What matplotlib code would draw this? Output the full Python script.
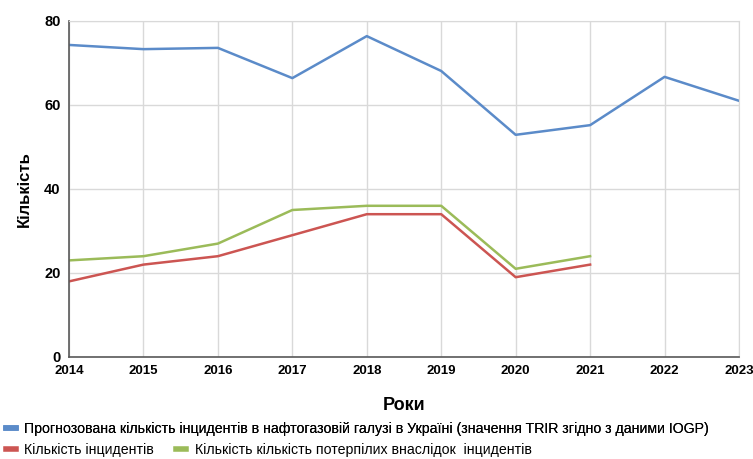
import matplotlib
matplotlib.use("Agg")
from matplotlib import pyplot as plt
from matplotlib.lines import Line2D

years = [2014, 2015, 2016, 2017, 2018, 2019, 2020, 2021, 2022, 2023]
forecast = [74.3, 73.3, 73.6, 66.4, 76.4, 68.1, 52.9, 55.2, 66.7, 61.0]
incident_years = [2014, 2015, 2016, 2017, 2018, 2019, 2020, 2021]
incidents = [18, 22, 24, 29, 34, 34, 19, 22]
victims = [23, 24, 27, 35, 36, 36, 21, 24]

labels = [
    "Прогнозована кількість інцидентів в нафтогазовій галузі в Україні (значення TRIR згідно з даними IOGP)",
    "Кількість інцидентів",
    "Кількість кількість потерпілих внаслідок  інцидентів",
]
colors = ["#5b8bc9", "#cc5552", "#9bbb59"]

plt.rcParams["font.family"] = ["Liberation Sans", "DejaVu Sans"]

fig = plt.figure(figsize=(7.53, 4.59), dpi=100)
ax = fig.add_axes([69 / 753, 1 - 357 / 459, (739 - 69) / 753, (357 - 21) / 459])

ax.plot(years, forecast, color=colors[0], lw=1.8)
ax.plot(incident_years, incidents, color=colors[1], lw=1.8)
ax.plot(incident_years, victims, color=colors[2], lw=1.8)

ax.set_xlim(2014, 2023)
ax.set_ylim(0, 80)
ax.set_xticks(years)
ax.set_yticks([0, 20, 40, 60, 80])
ax.grid(True, color="#d9d9d9", lw=1)
ax.set_axisbelow(True)
for side in ["top", "right"]:
    ax.spines[side].set_color("#d9d9d9")
for side in ["left", "bottom"]:
    ax.spines[side].set_color("#595959")
    ax.spines[side].set_linewidth(1.2)
ax.tick_params(axis="x", length=0, labelsize=9.5, pad=6)
ax.tick_params(axis="y", length=0, labelsize=10.5, pad=6)
for lbl in ax.get_xticklabels() + ax.get_yticklabels():
    lbl.set_fontweight("bold")

ax.set_xlabel("Роки", fontsize=13, fontweight="bold", labelpad=14)
ax.set_ylabel("Кількість", fontsize=12, fontweight="bold", labelpad=9)

handles = [Line2D([], [], color=c, lw=4) for c in colors]
leg1 = fig.legend([handles[0]], [labels[0]], loc="lower left",
                  bbox_to_anchor=(0.0, 0.038), frameon=False, fontsize=10.2,
                  handlelength=0.7, handletextpad=0.6, borderaxespad=0)
fig.legend(handles[1:], labels[1:], loc="lower left", ncol=2,
           bbox_to_anchor=(0.0, -0.008), frameon=False, fontsize=10.2,
           handlelength=0.7, handletextpad=0.6, columnspacing=1.6, borderaxespad=0)
fig.add_artist(leg1)

fig.savefig("out.png", dpi=100)
